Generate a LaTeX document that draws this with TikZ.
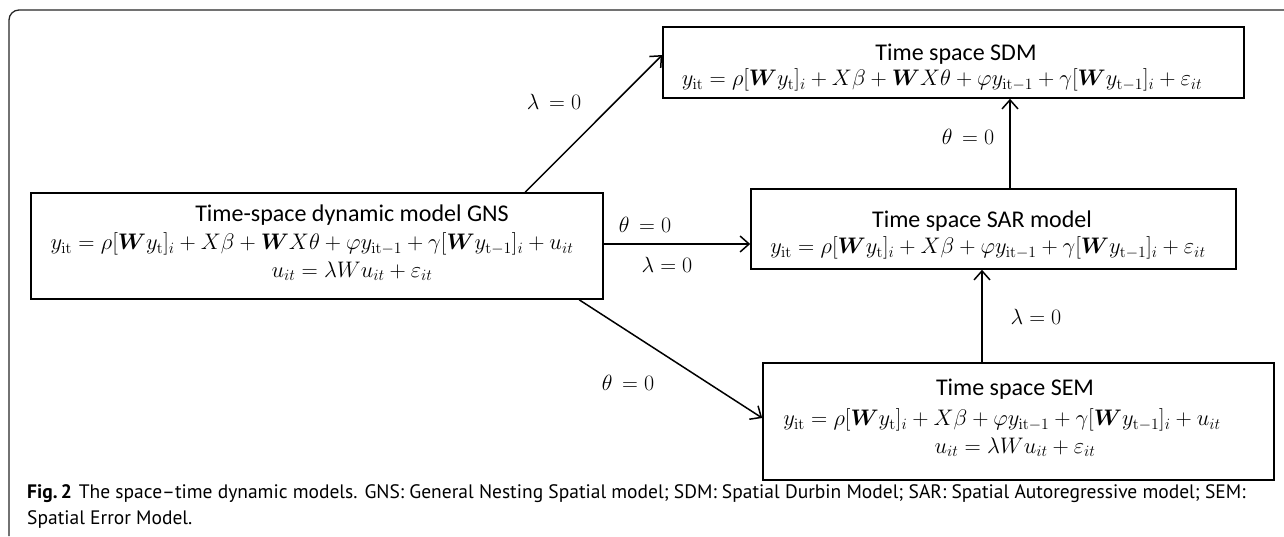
\RequirePackage{fix-cm}
\documentclass[tikz,border=0pt]{standalone}
\usepackage{amsmath}
\usepackage[no-math]{fontspec}
\setmainfont{Carlito}
\newfontfamily\capfont{PT Sans}
\usetikzlibrary{arrows.meta}
\begin{document}
\begin{tikzpicture}[x=1pt,y=-1pt,
  box/.style={draw, line width=1.6pt, inner sep=0pt},
  ttl/.style={inner sep=0pt, font=\fontsize{24}{28}\selectfont},
  eq/.style={inner sep=0pt, font=\fontsize{22.5}{27}\selectfont},
  lab/.style={inner sep=0pt, font=\fontsize{22}{26}\selectfont},
  arr/.style={line width=1.5pt, -{Straight Barb[length=9pt,width=16pt,line width=1.5pt]}},
  frame/.style={line width=1.3pt, draw=black!85, rounded corners=10pt}]
\useasboundingbox (0,0) rectangle (1284,536);
\draw[frame] (9,536) -- (9,10) -- (1284,10);

% boxes
\node[box, minimum width=581pt, minimum height=71pt] (sdm) at (953.5,62.5) {};
\node[box, minimum width=572pt, minimum height=106pt] (gns) at (317,246) {};
\node[box, minimum width=485pt, minimum height=80pt] (sar) at (993.5,229) {};
\node[box, minimum width=511pt, minimum height=117pt] (sem) at (1018.5,421.5) {};

% texts
\node[ttl] (sdmT) at (956,54) {Time space SDM};
\node[eq] (sdmF) at (942,80) {$y_{\mathrm{it}} = \rho[\boldsymbol{W}y_{\mathrm{t}}]_i + X\beta + \boldsymbol{W}X\theta + \varphi y_{\mathrm{it}-1} + \gamma[\boldsymbol{W}y_{\mathrm{t}-1}]_i + \varepsilon_{it}$};

\node[ttl] (gnsT) at (352,215) {Time-space dynamic model GNS};
\node[eq] (gnsF) at (312,244) {$y_{\mathrm{it}} = \rho[\boldsymbol{W}y_{\mathrm{t}}]_i + X\beta + \boldsymbol{W}X\theta + \varphi y_{\mathrm{it}-1} + \gamma[\boldsymbol{W}y_{\mathrm{t}-1}]_i + u_{it}$};
\node[eq] (gnsU) at (352,271) {$u_{it} = \lambda W u_{it} + \varepsilon_{it}$};

\node[ttl] (sarT) at (982,221) {Time space SAR model};
\node[eq] (sarF) at (988,248) {$y_{\mathrm{it}} = \rho[\boldsymbol{W}y_{\mathrm{t}}]_i + X\beta + \varphi y_{\mathrm{it}-1} + \gamma[\boldsymbol{W}y_{\mathrm{t}-1}]_i + \varepsilon_{it}$};

\node[ttl] (semT) at (1015,389) {Time space SEM};
\node[eq] (semF) at (1002,420) {$y_{\mathrm{it}} = \rho[\boldsymbol{W}y_{\mathrm{t}}]_i + X\beta + \varphi y_{\mathrm{it}-1} + \gamma[\boldsymbol{W}y_{\mathrm{t}-1}]_i + u_{it}$};
\node[eq] (semU) at (1015,447) {$u_{it} = \lambda W u_{it} + \varepsilon_{it}$};

% labels
\node[lab] (l1) at (554,102) {$\lambda\, = 0$};
\node[lab] (l2) at (968,137) {$\theta\, = 0$};
\node[lab] (l3) at (645,225) {$\theta\, = 0$};
\node[lab] (l4) at (667,265) {$\lambda = 0$};
\node[lab] (l5) at (1036,317) {$\lambda = 0$};
\node[lab] (l6) at (628,383) {$\theta\, = 0$};

% connectors
\draw[arr] ([xshift=495pt]gns.north west) -- ([yshift=7.5pt]sdm.west);
\draw[arr] (gns.east |- 0,244) -- (sar.west |- 0,244);
\draw[arr] ([xshift=549pt]gns.south west) -- ([yshift=3.5pt]sem.west);
\draw[arr] (sem.north -| 982,0) -- (sar.south -| 982,0);
\draw[arr] (sar.north -| 1010,0) -- (sdm.south -| 1010,0);

% caption
\node[anchor=west, inner sep=0pt, font=\capfont\fontsize{19.5}{23}\selectfont] (cap1) at (27,494)
  {\textbf{Fig.\,2}\hspace{7pt}The space–time dynamic models. GNS: General Nesting Spatial model; SDM: Spatial Durbin Model; SAR: Spatial Autoregressive model; SEM:};
\node[anchor=west, inner sep=0pt, font=\capfont\fontsize{19.5}{23}\selectfont] (cap2) at (27,519)
  {Spatial Error Model.};
\end{tikzpicture}
\end{document}
